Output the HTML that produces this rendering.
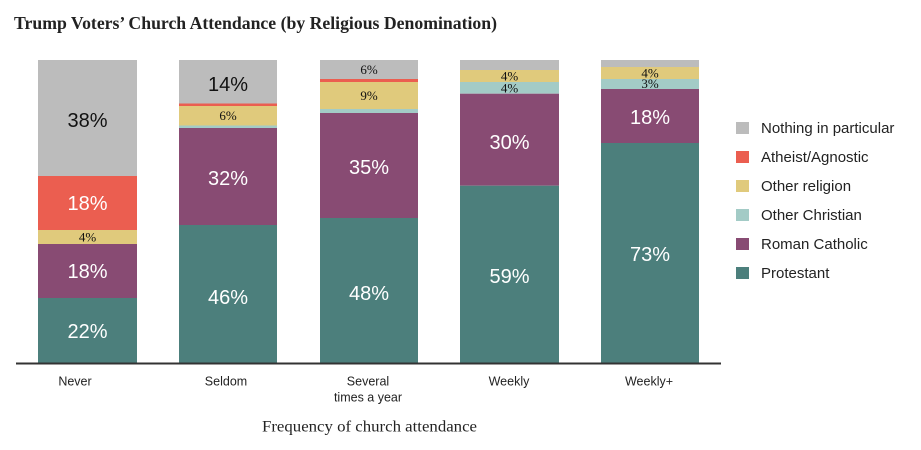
<!DOCTYPE html>
<html><head><meta charset="utf-8"><style>
html,body{margin:0;padding:0;background:#fff;}
svg{display:block;}
</style></head><body>
<svg width="921" height="450" viewBox="0 0 921 450" xmlns="http://www.w3.org/2000/svg">
<rect width="921" height="450" fill="#fff"/>
<text x="14" y="29" font-family="Liberation Serif, serif" font-weight="bold" font-size="18" fill="#222" textLength="483" lengthAdjust="spacingAndGlyphs">Trump Voters’ Church Attendance (by Religious Denomination)</text>

<!-- Never -->
<rect x="38" y="60" width="99" height="116" fill="#bcbcbc"/>
<rect x="38" y="176" width="99" height="54" fill="#eb5e50"/>
<rect x="38" y="230" width="99" height="14" fill="#e0ca7c"/>
<rect x="38" y="244" width="99" height="54" fill="#884b73"/>
<rect x="38" y="298" width="99" height="65" fill="#4c7f7c"/>
<!-- Seldom -->
<rect x="179" y="60" width="98" height="43.5" fill="#bcbcbc"/>
<rect x="179" y="103.5" width="98" height="2.5" fill="#eb5e50"/>
<rect x="179" y="106" width="98" height="19.5" fill="#e0ca7c"/>
<rect x="179" y="125.5" width="98" height="2.5" fill="#a3cbc6"/>
<rect x="179" y="128" width="98" height="97" fill="#884b73"/>
<rect x="179" y="225" width="98" height="138" fill="#4c7f7c"/>
<!-- Several -->
<rect x="320" y="60" width="98" height="19" fill="#bcbcbc"/>
<rect x="320" y="79" width="98" height="3" fill="#eb5e50"/>
<rect x="320" y="82" width="98" height="27" fill="#e0ca7c"/>
<rect x="320" y="109" width="98" height="4" fill="#a3cbc6"/>
<rect x="320" y="113" width="98" height="105" fill="#884b73"/>
<rect x="320" y="218" width="98" height="145" fill="#4c7f7c"/>
<!-- Weekly -->
<rect x="460" y="60" width="99" height="10" fill="#bcbcbc"/>
<rect x="460" y="70" width="99" height="12" fill="#e0ca7c"/>
<rect x="460" y="82" width="99" height="11.7" fill="#a3cbc6"/>
<rect x="460" y="93.7" width="99" height="92" fill="#884b73"/>
<rect x="460" y="185.7" width="99" height="177.3" fill="#4c7f7c"/>
<!-- Weekly+ -->
<rect x="601" y="60" width="98" height="7" fill="#bcbcbc"/>
<rect x="601" y="67" width="98" height="12" fill="#e0ca7c"/>
<rect x="601" y="79" width="98" height="10" fill="#a3cbc6"/>
<rect x="601" y="89" width="98" height="54" fill="#884b73"/>
<rect x="601" y="143" width="98" height="220" fill="#4c7f7c"/>

<!-- axis -->
<rect x="16" y="362.5" width="705" height="2" fill="#333"/>

<!-- big labels -->
<g font-family="Liberation Sans, sans-serif" font-size="20" text-anchor="middle">
<text x="87.5" y="127" fill="#111">38%</text>
<text x="87.5" y="210" fill="#fff">18%</text>
<text x="87.5" y="278" fill="#fff">18%</text>
<text x="87.5" y="338" fill="#fff">22%</text>
<text x="228" y="91" fill="#111">14%</text>
<text x="228" y="185" fill="#fff">32%</text>
<text x="228" y="304" fill="#fff">46%</text>
<text x="369" y="174" fill="#fff">35%</text>
<text x="369" y="300" fill="#fff">48%</text>
<text x="509.5" y="149" fill="#fff">30%</text>
<text x="509.5" y="283" fill="#fff">59%</text>
<text x="650" y="124" fill="#fff">18%</text>
<text x="650" y="261" fill="#fff">73%</text>
</g>
<!-- small labels -->
<g font-family="Liberation Serif, serif" font-size="13" text-anchor="middle" fill="#111">
<text x="87.5" y="241.5">4%</text>
<text x="228" y="120">6%</text>
<text x="369" y="74">6%</text>
<text x="369" y="100">9%</text>
<text x="509.5" y="80.5">4%</text>
<text x="509.5" y="92.5">4%</text>
<text x="650" y="77.5">4%</text>
<text x="650" y="88">3%</text>
</g>

<!-- x labels -->
<g font-family="Liberation Sans, sans-serif" font-size="12.5" text-anchor="middle" fill="#222">
<text x="75" y="385.7">Never</text>
<text x="226" y="385.7">Seldom</text>
<text x="368" y="385.7">Several</text>
<text x="368" y="401.7">times a year</text>
<text x="509" y="385.7">Weekly</text>
<text x="649" y="385.7">Weekly+</text>
</g>
<text x="262" y="431.5" font-family="Liberation Serif, serif" font-size="16" fill="#222" textLength="215" lengthAdjust="spacingAndGlyphs">Frequency of church attendance</text>

<!-- legend -->
<rect x="736" y="122" width="13" height="12" fill="#bcbcbc"/>
<rect x="736" y="151" width="13" height="12" fill="#eb5e50"/>
<rect x="736" y="180" width="13" height="12" fill="#e0ca7c"/>
<rect x="736" y="209" width="13" height="12" fill="#a3cbc6"/>
<rect x="736" y="238" width="13" height="12" fill="#884b73"/>
<rect x="736" y="267" width="13" height="12" fill="#4c7f7c"/>
<g font-family="Liberation Sans, sans-serif" font-size="15" fill="#222">
<text x="761" y="133">Nothing in particular</text>
<text x="761" y="162">Atheist/Agnostic</text>
<text x="761" y="191">Other religion</text>
<text x="761" y="220">Other Christian</text>
<text x="761" y="249">Roman Catholic</text>
<text x="761" y="278">Protestant</text>
</g>
</svg>
</body></html>
